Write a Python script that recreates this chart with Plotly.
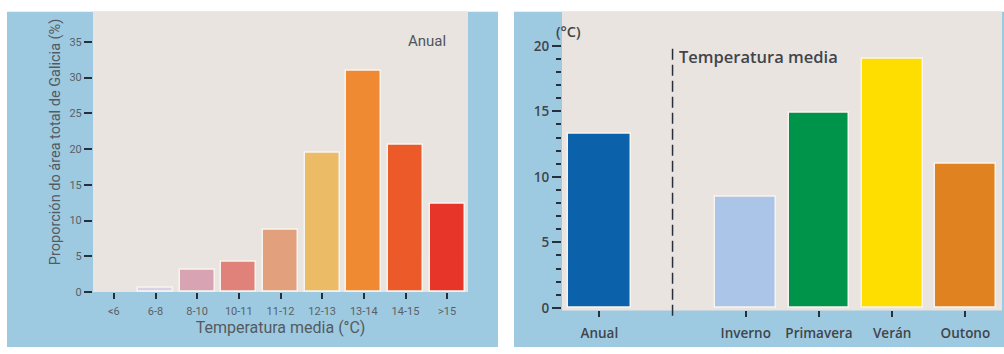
import plotly.graph_objects as go

W, H = 1004, 354

# Left panel: share of Galicia's area by annual mean temperature band
bands = ["<6", "6-8", "8-10", "10-11", "11-12", "12-13", "13-14", "14-15", ">15"]
area_pct = [0, 0.6, 3.1, 4.2, 8.7, 19.5, 31.0, 20.6, 12.4]
band_colors = ["#d9d2e6", "#d9d2e6", "#d8a3b2", "#e0827a", "#e3a07c",
               "#ecbb66", "#f08a32", "#ec5a2a", "#e8352a"]

# Right panel: mean temperature, annual and by season
periods = ["Anual", "Inverno", "Primavera", "Verán", "Outono"]
period_pos = [0, 2, 3, 4, 5]
mean_temp = [13.3, 8.5, 14.9, 19.0, 11.0]
period_colors = ["#0b62ab", "#aac5e7", "#00944b", "#fedd00", "#e0821f"]

BLUE = "#9ecae1"
BEIGE = "#e9e4df"
INK = "#4a4a4a"
TICK = "#26303a"
BOLD_FONT = "Open Sans, Roboto, sans-serif"


def px_x(p):
    return p / W


def px_y(p):
    return 1 - p / H


fig = go.Figure()

fig.add_trace(go.Bar(
    x=list(range(len(bands))), y=area_pct, width=0.84,
    marker=dict(color=band_colors,
                line=dict(color="#f7f3ee",
                          width=[0 if v == 0 else 1.5 for v in area_pct])),
    xaxis="x", yaxis="y", showlegend=False, hoverinfo="skip",
))

fig.add_trace(go.Bar(
    x=period_pos, y=mean_temp, width=[0.86, 0.83, 0.83, 0.83, 0.83],
    marker=dict(color=period_colors, line=dict(color="#f7f3ee", width=1.5)),
    xaxis="x2", yaxis="y2", showlegend=False, hoverinfo="skip",
))

left_dom_x = [px_x(93), px_x(468)]
left_dom_y = [px_y(298), px_y(12)]
right_dom_x = [px_x(562), px_x(1002)]
right_dom_y = [px_y(316.7), px_y(12)]
x2_range = [-0.51, 5.5]

minor_vals = [v for v in range(0, 21) if v % 5 != 0]

fig.update_layout(
    width=W, height=H,
    margin=dict(l=0, r=0, t=0, b=0),
    paper_bgcolor="white",
    plot_bgcolor=BEIGE,
    bargap=0,
    font=dict(family="Roboto, Liberation Sans, sans-serif", color=INK),
    xaxis=dict(
        domain=left_dom_x, range=[-0.5, 8.5],
        tickmode="array", tickvals=list(range(len(bands))), ticktext=bands,
        ticks="outside", ticklen=6, tickwidth=2, tickcolor=TICK,
        ticklabelstandoff=3,
        tickfont=dict(size=11, color="#5a5f66"),
        showgrid=False, zeroline=False, showline=False,
        title=dict(text="Temperatura media (°C)", standoff=4,
                   font=dict(size=16, color="#555a60")),
        fixedrange=True,
    ),
    yaxis=dict(
        domain=left_dom_y, range=[0, 39.2],
        tickmode="linear", tick0=0, dtick=5,
        ticks="outside", ticklen=8, tickwidth=2, tickcolor=TICK,
        tickfont=dict(size=11, color="#5a5f66"),
        showgrid=False, zeroline=False, showline=False,
        fixedrange=True,
    ),
    xaxis2=dict(
        domain=right_dom_x, range=x2_range, anchor="y2",
        tickmode="array", tickvals=period_pos, ticktext=periods,
        ticks="outside", ticklen=6, tickwidth=2, tickcolor=TICK,
        ticklabelstandoff=4,
        tickfont=dict(size=13.5, color="#3f454c", weight=600,
                      family=BOLD_FONT),
        showgrid=False, zeroline=False, showline=False,
        fixedrange=True,
    ),
    yaxis2=dict(
        domain=right_dom_y, range=[-0.2, 22.6], anchor="x2",
        tickmode="linear", tick0=0, dtick=5,
        ticks="outside", ticklen=9, tickwidth=2, tickcolor=TICK,
        tickfont=dict(size=13.5, color="#3f454c", weight=600,
                      family=BOLD_FONT),
        minor=dict(tickmode="array", tickvals=minor_vals, ticks="outside",
                   ticklen=5, tickwidth=2, tickcolor=TICK, showgrid=False),
        showgrid=False, zeroline=False, showline=False,
        fixedrange=True,
    ),
)

# Blue panel backgrounds, then the beige plotting areas on top of them
fig.add_shape(type="rect", xref="paper", yref="paper", layer="below",
              x0=px_x(7), x1=px_x(498), y0=0, y1=px_y(12),
              fillcolor=BLUE, line=dict(width=0))
fig.add_shape(type="rect", xref="paper", yref="paper", layer="below",
              x0=px_x(514), x1=1, y0=0, y1=px_y(12),
              fillcolor=BLUE, line=dict(width=0))
fig.add_shape(type="rect", xref="paper", yref="paper", layer="below",
              x0=left_dom_x[0], x1=left_dom_x[1],
              y0=left_dom_y[0], y1=left_dom_y[1],
              fillcolor=BEIGE, line=dict(width=0))
fig.add_shape(type="rect", xref="paper", yref="paper", layer="below",
              x0=right_dom_x[0], x1=right_dom_x[1],
              y0=right_dom_y[0], y1=right_dom_y[1],
              fillcolor=BEIGE, line=dict(width=0))

# Dashed separator between the annual bar and the seasonal bars
sep_x = right_dom_x[0] + (1 - x2_range[0]) / (x2_range[1] - x2_range[0]) * (
    right_dom_x[1] - right_dom_x[0])
fig.add_shape(type="line", xref="paper", yref="paper",
              x0=sep_x, x1=sep_x, y0=px_y(322), y1=px_y(45),
              line=dict(color=TICK, width=1.5, dash="11px,5px"))

# Left y-axis title
fig.add_annotation(xref="paper", yref="paper", x=px_x(55), y=px_y(145),
                   xanchor="center", yanchor="middle",
                   text="Proporción do área total de Galicia (%)",
                   textangle=-90, showarrow=False,
                   font=dict(size=14.5, color="#555a60"))

fig.add_annotation(xref="paper", yref="paper", x=px_x(448), y=px_y(42),
                   xanchor="right", yanchor="middle",
                   text="Anual", showarrow=False,
                   font=dict(size=15, color="#50555b"))

fig.add_annotation(xref="paper", yref="paper", x=px_x(554), y=px_y(32),
                   xanchor="left", yanchor="middle",
                   text="(°C)", showarrow=False,
                   font=dict(size=14.5, color="#3f454c", weight=600,
                             family=BOLD_FONT))

fig.add_annotation(xref="paper", yref="paper", x=sep_x + px_x(4), y=px_y(58),
                   xanchor="left", yanchor="middle",
                   text="Temperatura media", showarrow=False,
                   font=dict(size=16.5, color="#3f454c", weight=600,
                             family=BOLD_FONT))

fig.write_html("out.html")
